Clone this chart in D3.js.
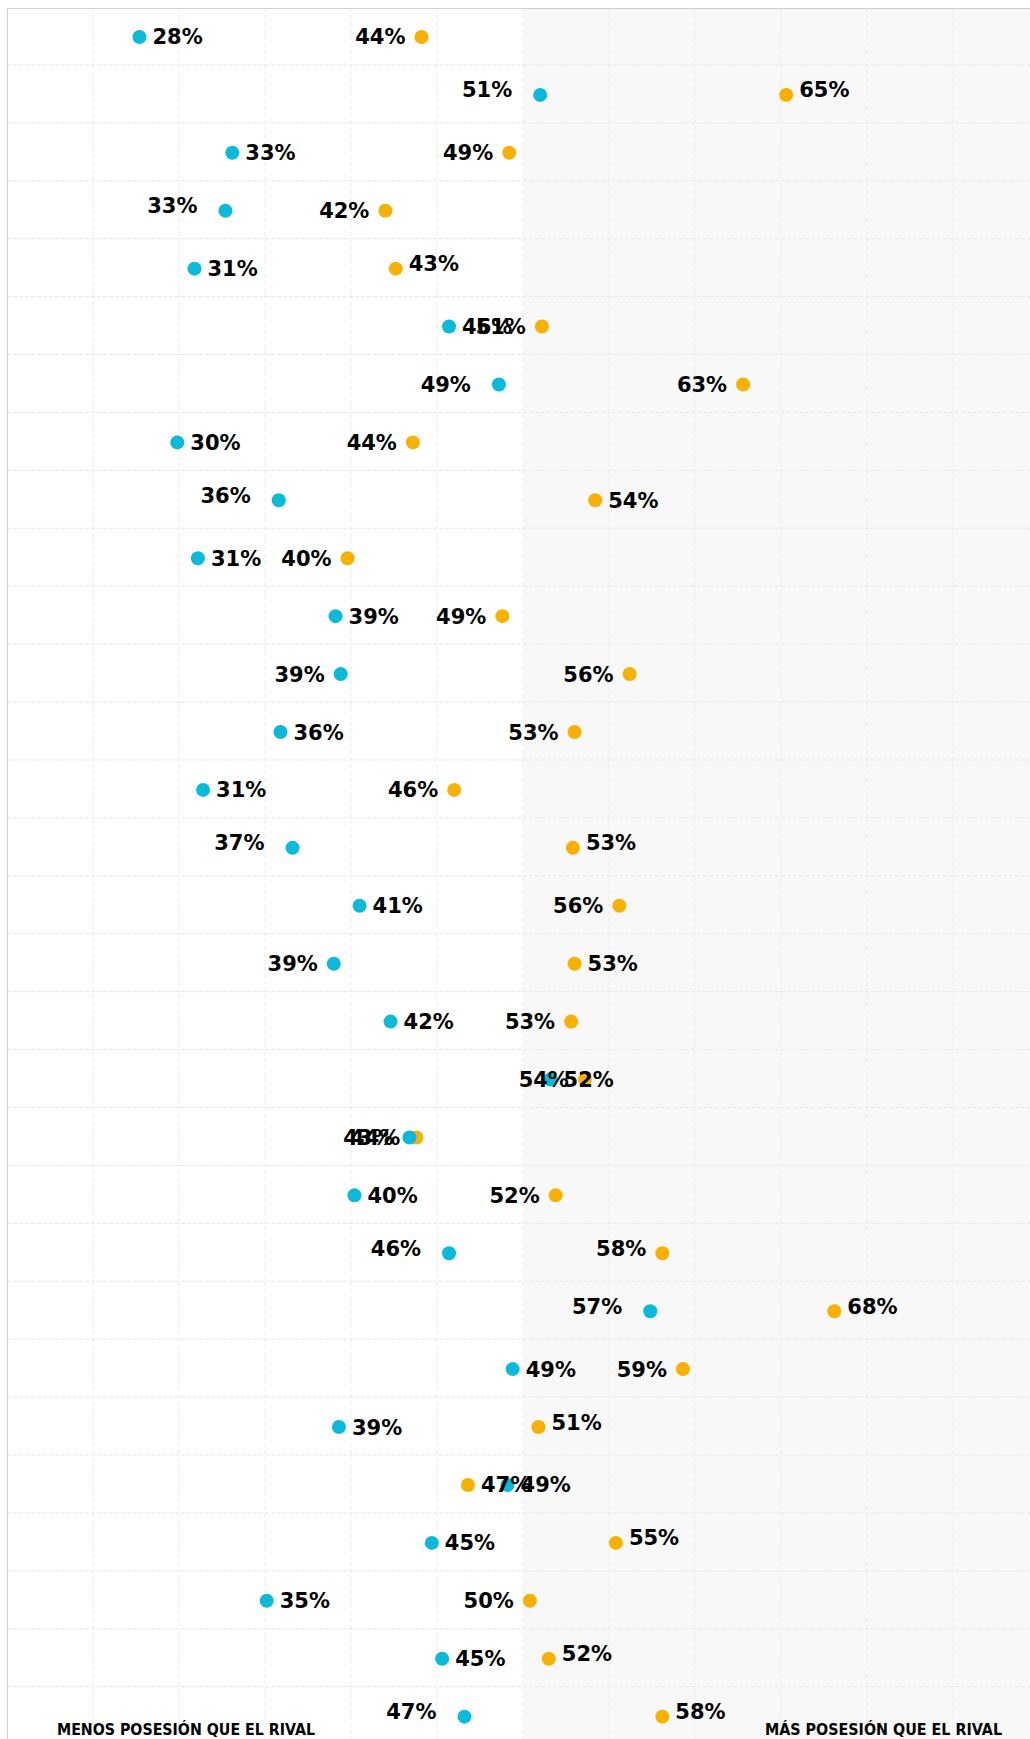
<!DOCTYPE html>
<html>
<head>
<meta charset="utf-8">
<script src="https://cdn.jsdelivr.net/npm/d3@7"></script>
<style>
  html, body { margin: 0; padding: 0; background: #fff; }
  svg { display: block; }
</style>
</head>
<body>
<script>
// one row per match (team names are not shown in the chart)
var matches = ["1","2","3","4","5","6","7","8","9","10","11","12","13","14","15",
               "16","17","18","19","20","21","22","23","24","25","26","27","28","29","30"];

// possession % (cyan and orange series)
var possCyan = [27.7, 51.0, 33.1, 32.7, 30.9, 45.7, 48.6, 29.9, 35.8, 31.1,
                39.1, 39.4, 35.9, 31.4, 36.6, 40.5, 39.0, 42.3, 51.6, 43.4,
                40.2, 45.7, 57.4, 49.4, 39.3, 49.1, 44.7, 35.1, 45.3, 46.6];
var possOrange = [44.1, 65.3, 49.2, 42.0, 42.6, 51.1, 62.8, 43.6, 54.2, 39.8,
                  48.8, 56.2, 53.0, 46.0, 52.9, 55.6, 53.0, 52.8, 53.6, 43.8,
                  51.9, 58.1, 68.1, 59.3, 50.9, 46.8, 55.4, 50.4, 51.5, 58.1];

// label placement: L/R side, u = nudged up, w = wider gap
var labelCyan = ["R","Luw","R","Luw","R","R","Lw","R","Luw","R",
                 "R","L","R","R","Luw","R","L","R","R","L",
                 "R","Luw","Luw","R","R","R","R","R","R","Luw"];
var labelOrange = ["L","Ru","L","L","Ru","L","L","L","R","L",
                   "L","L","L","L","Ru","L","R","L","L","L",
                   "L","Lu","Ru","L","Ru","R","Ru","L","Ru","Ru"];

var xTicks = [25, 30, 35, 40, 45, 50, 55, 60, 65, 70, 75];
var lessLabel = "MENOS POSESIÓN QUE EL RIVAL";
var moreLabel = "MÁS POSESIÓN QUE EL RIVAL";

var W = 1030, H = 1739;
var plotLeft = 7, plotTop = 8;
var cyan = "#0bb9d9", orange = "#f8b100";

var svg = d3.select("body").append("svg")
    .attr("width", W)
    .attr("height", H);

var x = d3.scaleLinear().domain([20, 80]).range([plotLeft, plotLeft + 60 * 17.2]);
var y = d3.scaleBand().domain(matches).range([plotTop, plotTop + 30 * 57.92]);

// background: grey half for "more possession"
svg.append("rect")
    .attr("x", x(50)).attr("y", plotTop)
    .attr("width", W - x(50)).attr("height", H - plotTop)
    .attr("fill", "#f8f8f8");

// grid
var grid = svg.append("g").attr("class", "grid");
grid.selectAll("line.v")
    .data(xTicks)
    .enter().append("line")
    .attr("class", "v")
    .attr("x1", d => x(d)).attr("x2", d => x(d))
    .attr("y1", plotTop).attr("y2", H)
    .attr("stroke", "#ebebeb")
    .attr("stroke-dasharray", "4,3");

grid.selectAll("line.h")
    .data(matches.slice(1))
    .enter().append("line")
    .attr("class", "h")
    .attr("x1", plotLeft).attr("x2", W)
    .attr("y1", d => y(d) - 1).attr("y2", d => y(d) - 1)
    .attr("stroke", "#e6e6e6")
    .attr("stroke-dasharray", "4,2");

// frame
svg.append("line")
    .attr("x1", plotLeft).attr("x2", W)
    .attr("y1", plotTop + 0.5).attr("y2", plotTop + 0.5)
    .attr("stroke", "#cfcfcf");
svg.append("line")
    .attr("x1", plotLeft + 0.5).attr("x2", plotLeft + 0.5)
    .attr("y1", plotTop).attr("y2", H)
    .attr("stroke", "#cfcfcf");

var cy = d => y(d) + y.bandwidth() / 2;

// dots: orange under cyan
function dots(values, color, cls) {
    svg.append("g").attr("class", cls)
        .selectAll("circle")
        .data(values)
        .enter().append("circle")
        .attr("cx", d => x(d))
        .attr("cy", (d, i) => cy(matches[i]))
        .attr("r", 7)
        .attr("fill", color);
}
dots(possOrange, orange, "orange");
dots(possCyan, cyan, "cyan");

// value labels
function labels(values, place, cls) {
    svg.append("g").attr("class", cls)
        .selectAll("text")
        .data(values)
        .enter().append("text")
        .text(d => Math.round(d) + "%")
        .attr("x", (d, i) => {
            var p = place[i], gap = p.indexOf("w") >= 0 ? 12 : 0;
            return p[0] === "R" ? x(d) + 13 + gap : x(d) - 16 - gap;
        })
        .attr("y", (d, i) => cy(matches[i]) + 7.5 - (place[i].indexOf("u") >= 0 ? 5 : 0))
        .attr("text-anchor", (d, i) => place[i][0] === "R" ? "start" : "end")
        .attr("font-family", "'DejaVu Sans', sans-serif")
        .attr("font-weight", "bold")
        .attr("font-size", 21)
        .attr("fill", "#000");
}
labels(possOrange, labelOrange, "orange-labels");
labels(possCyan, labelCyan, "cyan-labels");

// side captions
svg.append("text")
    .attr("x", 57).attr("y", 1735)
    .attr("font-family", "'DejaVu Sans', sans-serif")
    .attr("font-weight", "bold")
    .attr("font-size", 16)
    .attr("textLength", 258)
    .attr("lengthAdjust", "spacingAndGlyphs")
    .attr("fill", "#000")
    .text(lessLabel);

svg.append("text")
    .attr("x", 765).attr("y", 1735)
    .attr("font-family", "'DejaVu Sans', sans-serif")
    .attr("font-weight", "bold")
    .attr("font-size", 16)
    .attr("textLength", 237)
    .attr("lengthAdjust", "spacingAndGlyphs")
    .attr("fill", "#000")
    .text(moreLabel);
</script>
</body>
</html>
